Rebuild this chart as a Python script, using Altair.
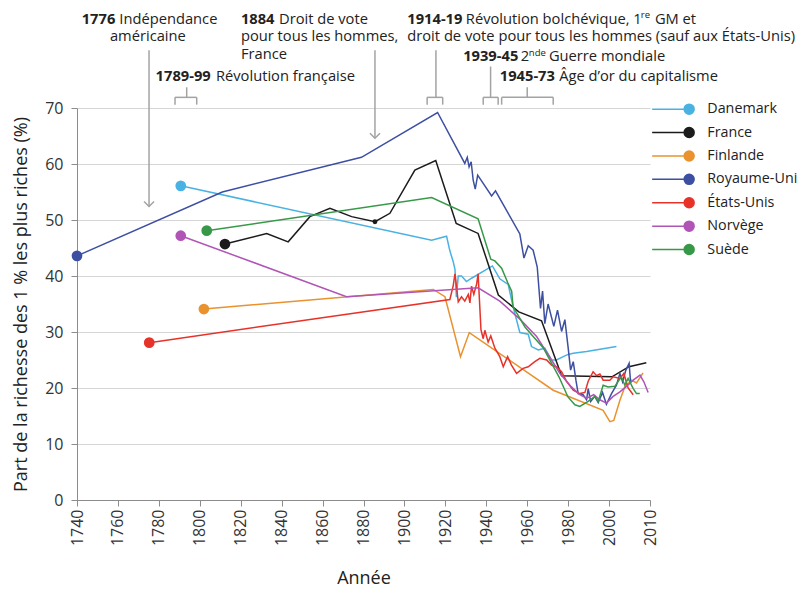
import altair as alt
import pandas as pd

pays = ["Danemark", "France", "Finlande", "Royaume-Uni", "États-Unis", "Norvège", "Suède"]
couleurs = ["#4ab2e2", "#1b1b1b", "#e9922e", "#3d4fa2", "#e7322a", "#b055b6", "#379948"]

danemark_annees = [1790.7, 1913.3, 1920.6, 1922.2, 1923.8, 1924.7, 1925.4, 1926.3, 1927.9, 1930.3, 1932.8, 1943.0, 1946.6, 1950.7, 1953.1, 1956.4, 1960.5, 1962.1, 1965.4, 1968.6, 1971.9, 1974.3, 1977.6, 1980.0, 1982.5, 1989.0, 2003.6]
danemark_parts = [56.1, 46.4, 47.1, 44.5, 42.6, 41.2, 36.2, 40.0, 40.0, 39.0, 39.6, 41.8, 39.5, 38.5, 34.5, 29.9, 29.6, 27.4, 26.8, 27.1, 25.0, 25.0, 25.6, 26.0, 26.2, 26.5, 27.4]

france_annees = [1812.3, 1832.7, 1843.2, 1853.8, 1863.6, 1874.2, 1885.6, 1892.9, 1905.1, 1915.3, 1925.3, 1936.0, 1945.9, 1955.9, 1967.0, 1976.8, 2001.4, 2009.7, 2018.2]
france_parts = [45.7, 47.6, 46.1, 50.6, 52.1, 50.6, 49.7, 51.2, 58.9, 60.6, 49.4, 47.6, 36.6, 33.6, 32.0, 22.2, 22.0, 23.8, 24.5]

finlande_annees = [1802.0, 1914.1, 1919.8, 1927.4, 1931.7, 1972.7, 1997.1, 2000.4, 2002.3, 2005.3, 2007.7, 2011.0, 2013.4, 2016.6]
finlande_parts = [34.1, 37.6, 36.3, 25.6, 29.9, 19.6, 16.0, 14.0, 14.2, 17.8, 20.2, 21.4, 20.9, 22.7]

ru_annees = [1740.0, 1811.0, 1879.0, 1916.2, 1929.5, 1930.7, 1931.6, 1932.6, 1933.6, 1934.6, 1935.8, 1942.6, 1944.5, 1956.4, 1958.4, 1960.5, 1962.9, 1964.9, 1966.5, 1967.5, 1968.6, 1970.2, 1971.9, 1973.0, 1974.8, 1976.8, 1978.4, 1980.0, 1981.2, 1982.5, 1983.8, 1984.9, 1987.3, 1989.0, 1989.8, 1991.0, 1993.0, 1994.7, 1996.8, 1998.7, 2001.2, 2003.6, 2005.3, 2006.6, 2008.2, 2009.8, 2010.5]
ru_parts = [43.6, 55.0, 61.2, 69.2, 60.1, 61.2, 59.5, 60.4, 57.1, 55.5, 58.0, 54.3, 55.2, 47.5, 43.2, 45.4, 44.6, 41.6, 34.2, 37.3, 31.5, 35.0, 32.6, 31.0, 33.9, 30.1, 32.2, 27.2, 23.2, 24.7, 21.4, 19.0, 18.8, 17.9, 19.9, 17.6, 18.5, 17.4, 19.2, 17.1, 19.0, 20.5, 22.6, 21.1, 23.2, 24.4, 21.1]

eu_annees = [1775.3, 1922.2, 1923.8, 1924.7, 1926.3, 1927.9, 1929.5, 1931.2, 1932.0, 1932.8, 1933.9, 1935.3, 1936.0, 1937.4, 1938.5, 1939.3, 1940.9, 1942.2, 1944.2, 1946.6, 1948.3, 1950.4, 1952.3, 1954.8, 1958.0, 1960.5, 1963.7, 1966.2, 1969.5, 1971.9, 1974.3, 1976.8, 1979.2, 1982.5, 1985.7, 1988.2, 1989.8, 1992.2, 1993.9, 1995.5, 1997.1, 2000.4, 2002.0, 2005.3, 2007.2, 2009.3, 2011.8]
eu_parts = [28.1, 35.8, 38.2, 40.4, 35.4, 36.3, 35.5, 36.7, 35.2, 38.2, 36.7, 38.6, 40.4, 30.4, 28.8, 30.3, 28.2, 29.3, 27.1, 25.6, 23.8, 25.6, 24.1, 22.6, 23.5, 23.8, 24.7, 25.3, 25.0, 24.1, 23.8, 22.9, 21.2, 19.6, 19.0, 19.2, 21.2, 22.9, 22.2, 22.5, 21.4, 21.4, 22.0, 21.7, 22.6, 20.0, 18.8]

norvege_annees = [1790.7, 1871.7, 1936.0, 1946.6, 1956.4, 1964.6, 1971.9, 1976.0, 1981.6, 1985.7, 1989.0, 1992.5, 1995.5, 1998.7, 2002.0, 2005.3, 2008.5, 2011.8, 2015.1, 2017.0, 2019.1]
norvege_parts = [47.2, 36.3, 37.9, 35.5, 32.3, 29.2, 25.0, 22.6, 20.2, 18.8, 18.2, 18.8, 17.9, 17.3, 18.5, 19.3, 20.3, 21.4, 22.3, 21.1, 19.2]

suede_annees = [1803.4, 1913.3, 1936.0, 1942.2, 1944.2, 1947.5, 1950.5, 1952.4, 1953.1, 1958.9, 1962.9, 1967.8, 1975.5, 1979.9, 1983.3, 1985.7, 1989.8, 1993.1, 1994.7, 1997.1, 1999.5, 2002.8, 2006.0, 2007.7, 2009.3, 2011.8, 2013.4, 2015.0]
suede_parts = [48.1, 54.0, 50.2, 43.0, 42.7, 41.4, 38.8, 37.3, 34.5, 30.9, 29.2, 27.2, 22.0, 18.4, 17.0, 16.7, 17.6, 18.5, 17.6, 20.5, 20.2, 20.3, 22.0, 20.5, 21.7, 19.9, 19.0, 19.0]

x_ticks = [1740, 1760, 1780, 1800, 1820, 1840, 1860, 1880, 1900, 1920, 1940, 1960, 1980, 2000, 2020]
y_ticks = [0, 10, 20, 30, 40, 50, 60, 70]

# France 1884 marker
point_1884_annee = [1885.6]
point_1884_part = [49.7]

# Annotations (year on x axis, value on y axis)
fleches_annee = [1775.2, 1885.6]
fleches_haut = [80.3, 80.3]
fleches_pointe = [52.4, 64.6]

accolades_debut = [1787.9, 1911.1, 1938.5, 1947.5]
accolades_fin = [1798.5, 1918.7, 1945.8, 1972.7]
accolades_centre = [1793.6, 1915.4, 1942.1, 1960.0]
accolades_haut_tige = [73.7, 80.3, 77.4, 73.7]
accolade_barre = 71.9
accolade_pied = 70.6

gras_textes = ["1776", "1884", "1789-99", "1914-19", "1939-45", "1945-73"]
gras_annee = [1742.3, 1820.1, 1778.4, 1901.4, 1928.7, 1946.6]
gras_part = [85.8, 85.8, 75.6, 85.8, 79.1, 75.6]

texte_textes = ["Indépendance", "américaine", "Droit de vote", "pour tous les hommes,", "France",
                "Révolution française", "Révolution bolchévique, 1", "GM et",
                "droit de vote pour tous les hommes (sauf aux États-Unis)",
                "2", "Guerre mondiale", "Âge d’or du capitalisme"]
texte_annee = [1760.7, 1756.1, 1838.7, 1820.1, 1820.1, 1807.9, 1930.0, 2022.4, 1901.4, 1956.8, 1970.6, 1975.6]
texte_part = [85.8, 82.7, 85.8, 82.7, 79.5, 75.6, 85.8, 85.8, 82.7, 79.1, 79.1, 75.6]

exposant_textes = ["re", "nde"]
exposant_annee = [2015.5, 1960.8]
exposant_part = [86.6, 79.9]

# ---------- tables ----------
series = [
    ("Danemark", danemark_annees, danemark_parts),
    ("France", france_annees, france_parts),
    ("Finlande", finlande_annees, finlande_parts),
    ("Royaume-Uni", ru_annees, ru_parts),
    ("États-Unis", eu_annees, eu_parts),
    ("Norvège", norvege_annees, norvege_parts),
    ("Suède", suede_annees, suede_parts),
]
rows = []
debut = []
for nom, ans, vals in series:
    for a, v in zip(ans, vals):
        rows.append({"pays": nom, "annee": a, "part": v})
    debut.append({"pays": nom, "annee": ans[0], "part": vals[0]})
df = pd.DataFrame(rows)
df_debut = pd.DataFrame(debut)
df_1884 = pd.DataFrame({"annee": point_1884_annee, "part": point_1884_part})

df_fleches = pd.DataFrame({"annee": fleches_annee, "haut": fleches_haut, "pointe": fleches_pointe})
df_barres = pd.DataFrame({"debut": accolades_debut, "fin": accolades_fin,
                          "barre": [accolade_barre] * 4})
pieds = []
for d, f in zip(accolades_debut, accolades_fin):
    pieds.append({"annee": d, "haut": accolade_barre, "bas": accolade_pied})
    pieds.append({"annee": f, "haut": accolade_barre, "bas": accolade_pied})
for c, h in zip(accolades_centre, accolades_haut_tige):
    pieds.append({"annee": c, "haut": h, "bas": accolade_barre})
df_pieds = pd.DataFrame(pieds)

df_gras = pd.DataFrame({"annee": gras_annee, "part": gras_part, "t": gras_textes})
df_texte = pd.DataFrame({"annee": texte_annee, "part": texte_part, "t": texte_textes})
df_exp = pd.DataFrame({"annee": exposant_annee, "part": exposant_part, "t": exposant_textes})

# ---------- scales / encodings ----------
xscale = alt.Scale(domain=[1740, 2020], nice=False, zero=False)
yscale = alt.Scale(domain=[0, 70], nice=False)

X = alt.X("annee:Q", scale=xscale, title="Année",
          axis=alt.Axis(values=x_ticks, labelAngle=270, grid=False, tickSize=6,
                        labelExpr="datum.value == 2020 ? '2010' : '' + datum.value",
                        labelPadding=3, titlePadding=24))
Y = alt.Y("part:Q", scale=yscale, title="Part de la richesse des 1 % les plus riches (%)",
          axis=alt.Axis(values=y_ticks, grid=True, tickSize=6, labelPadding=8, titlePadding=14))

sym = "M-7.4,0L-1,0M1,0A1,1,0,1,1,-1,0A1,1,0,1,1,1,0Z"
legende = alt.Legend(
    title=None, orient="none", legendX=605, legendY=-6,
    symbolType=sym, symbolSize=100, symbolStrokeWidth=1.5, symbolOpacity=1,
    labelFont="Open Sans", labelFontSize=14.3, labelColor="#222", labelOffset=11,
    rowPadding=6.4,
)
echelle = alt.Scale(domain=pays, range=couleurs)
S = alt.Stroke("pays:N", scale=echelle, legend=legende)
F = alt.Fill("pays:N", scale=echelle, legend=legende)

gris = "#a3a3a3"
police = "Open Sans"

lignes = alt.Chart(df).mark_line(strokeWidth=1.5).encode(x=X, y=Y, stroke=S, detail="pays:N")
points = alt.Chart(df_debut).mark_circle(size=115, opacity=1).encode(x="annee:Q", y="part:Q", fill=F)
p1884 = alt.Chart(df_1884).mark_circle(size=24, opacity=1, color="#1b1b1b").encode(x="annee:Q", y="part:Q")

fleches = alt.Chart(df_fleches).mark_rule(color=gris, strokeWidth=1.5).encode(
    x="annee:Q", y="haut:Q", y2="pointe:Q")
pointes = alt.Chart(df_fleches).mark_point(shape="M-1,-1L0,0L1,-1", filled=False, size=100,
                                           color=gris, strokeWidth=1.5, opacity=1).encode(
    x="annee:Q", y="pointe:Q")
barres = alt.Chart(df_barres).mark_rule(color=gris, strokeWidth=1.5).encode(
    x="debut:Q", x2="fin:Q", y="barre:Q")
jambes = alt.Chart(df_pieds).mark_rule(color=gris, strokeWidth=1.5).encode(
    x="annee:Q", y="haut:Q", y2="bas:Q")

t_gras = alt.Chart(df_gras).mark_text(align="left", baseline="middle", font=police, fontSize=14.7,
                                      fontWeight="bold", color="#222").encode(
    x="annee:Q", y="part:Q", text="t:N")
t_norm = alt.Chart(df_texte).mark_text(align="left", baseline="middle", font=police, fontSize=14.7,
                                       color="#222").encode(x="annee:Q", y="part:Q", text="t:N")
t_exp = alt.Chart(df_exp).mark_text(align="left", baseline="middle", font=police, fontSize=9.5,
                                    color="#222").encode(x="annee:Q", y="part:Q", text="t:N")

chart = alt.layer(lignes, points, p1884, fleches, pointes, barres, jambes, t_gras, t_norm, t_exp).properties(
    width=573, height=392,
    autosize=alt.AutoSizeParams(type="none"),
    padding={"left": 69, "top": 100, "right": 152, "bottom": 88},
).configure_view(stroke="transparent").configure_axis(
    labelFont="Open Sans", labelFontSize=16, labelColor="#333",
    titleFont="Open Sans", titleFontSize=18, titleFontWeight="normal", titleColor="#222",
    domainColor="#8c8c8c", tickColor="#8c8c8c", gridColor="#d6d6d6",
)

chart.save("out.html", embed_options={"renderer": "svg", "actions": False})
